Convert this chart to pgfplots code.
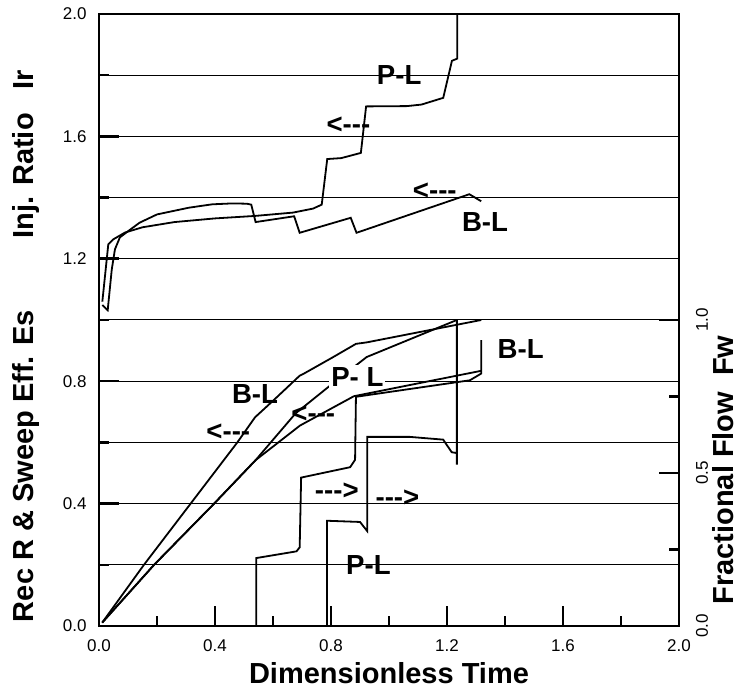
\documentclass[border=0pt]{standalone}
\usepackage{fontspec}
\setmainfont{Liberation Sans}
\usepackage{pgfplots}
\pgfplotsset{compat=1.18}
\usetikzlibrary{calc}

\newcommand\tickfont{\fontsize{8.5}{10}\selectfont}
\newcommand\labfont{\fontsize{14.5}{16}\selectfont\bfseries}
\newcommand\annfont{\fontsize{13.8}{15}\selectfont\bfseries}
\newcommand\la{<{-}{-}{-}}
\newcommand\ra{{-}{-}{-}>}

\begin{document}
\begin{tikzpicture}
\begin{axis}[
    scale only axis,
    width=290pt, height=306pt,
    xmin=0, xmax=2, ymin=0, ymax=2,
    clip=false,
    axis line style={line width=1.4pt},
    xtick={0,0.4,0.8,1.2,1.6,2.0},
    minor xtick={0.2,0.6,1.0,1.4,1.8},
    ytick={0,0.4,0.8,1.2,1.6,2.0},
    minor ytick={0.2,0.6,1.0,1.4,1.8},
    xtick pos=bottom, ytick pos=left,
    tick align=inside,
    major tick length=10pt, minor tick length=5pt,
    every tick/.style={black, line width=1.3pt},
    ymajorgrids, yminorgrids,
    major grid style={black, line width=0.5pt},
    minor grid style={black, line width=0.5pt},
    ticklabel style={font=\tickfont},
    xticklabel shift=3.5pt, yticklabel shift=2.7pt,
    /pgf/number format/.cd, fixed, fixed zerofill, precision=1, assume math mode=true,
]
\coordinate (SW) at (rel axis cs:0,0);
\coordinate (NE) at (rel axis cs:1,1);

% Injection ratio, B-L
\addplot[black, line width=0.9pt] coordinates {
 (0.0115,1.049) (0.03,1.032) (0.044,1.165) (0.055,1.231) (0.072,1.27)
 (0.1,1.29) (0.14,1.318) (0.2,1.345) (0.26,1.357) (0.31,1.367)
 (0.39,1.378) (0.46,1.381) (0.51,1.38) (0.525,1.377) (0.54,1.32)
 (0.673,1.339) (0.692,1.285) (0.868,1.334) (0.888,1.285)
 (1.277,1.411) (1.318,1.388)
};
% Injection ratio, P-L
\addplot[black, line width=0.9pt] coordinates {
 (0.0115,1.06) (0.032,1.247) (0.05,1.264) (0.09,1.286) (0.15,1.303)
 (0.26,1.32) (0.4,1.332) (0.537,1.34) (0.669,1.351) (0.738,1.364)
 (0.768,1.377) (0.787,1.526) (0.835,1.529) (0.903,1.546) (0.921,1.698)
 (1.062,1.699) (1.112,1.704) (1.187,1.726) (1.217,1.847) (1.235,1.854)
 (1.235,2.0)
};
% Recovery, B-L
\addplot[black, line width=0.9pt] coordinates {
 (0.011,0.011) (0.155,0.2) (0.316,0.4) (0.477,0.6) (0.538,0.682)
 (0.6,0.736) (0.692,0.818) (0.705,0.824) (0.806,0.878) (0.886,0.922)
 (0.924,0.927) (1.318,1.0)
};
% Recovery, P-L
\addplot[black, line width=0.9pt] coordinates {
 (0.011,0.011) (0.19,0.2) (0.397,0.4) (0.54,0.542) (0.678,0.695)
 (0.796,0.785) (0.923,0.879) (1.234,1.0)
};
% Sweep efficiency
\addplot[black, line width=0.9pt] coordinates {
 (0.011,0.011) (0.19,0.2) (0.397,0.4) (0.54,0.542) (0.693,0.655)
 (0.879,0.751) (1.318,0.834)
};
% Fractional flow, B-L
\addplot[black, line width=0.9pt] coordinates {
 (0.542,0) (0.542,0.222) (0.681,0.244) (0.692,0.257) (0.697,0.485)
 (0.866,0.519) (0.883,0.543) (0.886,0.749) (1.279,0.803) (1.318,0.825)
 (1.318,0.934)
};
% Fractional flow, P-L
\addplot[black, line width=0.9pt] coordinates {
 (0.786,0) (0.786,0.344) (0.9,0.34) (0.925,0.31) (0.925,0.618)
 (1.072,0.618) (1.187,0.609) (1.216,0.568) (1.234,0.565) (1.234,0.527)
 (1.234,1.0)
};

\node[font=\annfont] at (axis cs:1.035,1.80) {P-L};
\node[font=\annfont] at (axis cs:0.860,1.635) {\la};
\node[font=\annfont] at (axis cs:1.158,1.422) {\la};
\node[font=\annfont] at (axis cs:1.331,1.321) {B-L};
\node[font=\annfont] at (axis cs:1.454,0.904) {B-L};
\node[font=\annfont, fill=white, inner sep=1pt] at (axis cs:0.891,0.815) {P- L};
\node[font=\annfont] at (axis cs:0.538,0.758) {B-L};
\node[font=\annfont] at (axis cs:0.446,0.632) {\la};
\node[font=\annfont] at (axis cs:0.739,0.692) {\la};
\node[font=\annfont] at (axis cs:0.82,0.442) {\ra};
\node[font=\annfont] at (axis cs:1.029,0.418) {\ra};
\node[font=\annfont] at (axis cs:0.929,0.2) {P-L};

\path (axis cs:0,1.542) ++(-36.5pt,0) node[rotate=90, font=\labfont] {Inj. Ratio\hspace{12pt}Ir};
\path (axis cs:0,0.523) ++(-36.5pt,0) node[rotate=90, font=\labfont] {Rec R \& Sweep Eff. Es};
\path (axis cs:2,0.51) ++(22pt,0) node[rotate=90, font=\labfont] {Fractional Flow\hspace{8pt}Fw};
\path (axis cs:1,0) ++(0,-23.5pt) node[font=\labfont] {Dimensionless Time};
\end{axis}

\begin{axis}[
    scale only axis,
    width=290pt, height=306pt,
    xmin=0, xmax=2, ymin=0, ymax=2,
    hide x axis,
    axis line style={draw=none},
    ytick={0,0.5,1}, minor ytick={0.25,0.75},
    ytick pos=right,
    tick align=inside,
    major tick length=10pt, minor tick length=5pt,
    every tick/.style={black, line width=1.3pt},
    yticklabel style={rotate=90, anchor=north, font=\tickfont},
    yticklabel shift=5pt,
    /pgf/number format/.cd, fixed, fixed zerofill, precision=1, assume math mode=true,
]
\addplot[draw=none] coordinates {(0,0)};
\end{axis}

\pgfresetboundingbox
\path[use as bounding box] ($(SW)+(-49.5pt,-32pt)$) rectangle ($(NE)+(31.5pt,7pt)$);
\end{tikzpicture}
\end{document}
